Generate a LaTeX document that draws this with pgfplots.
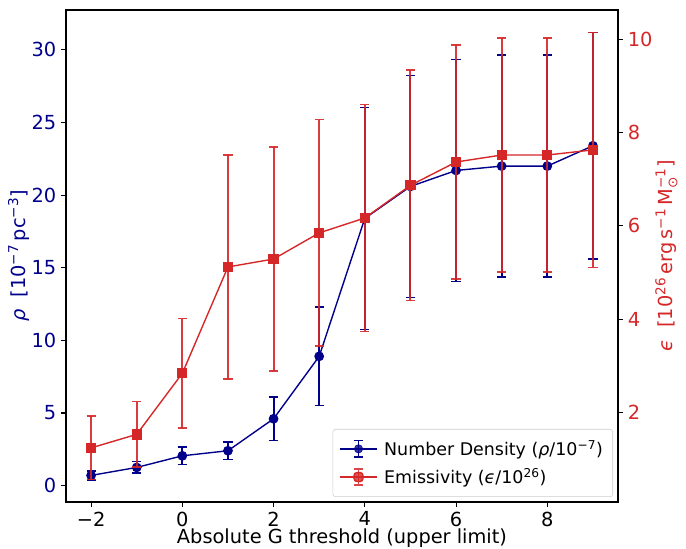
\documentclass[border=0pt]{standalone}
\usepackage{fontspec}
\setmainfont{DejaVu Sans}
\usepackage{amsmath}
\usepackage{pgfplots}
\pgfplotsset{compat=1.18}
\usepackage{pgfplotstable}
\definecolor{blueC}{HTML}{00008B}
\definecolor{redC}{HTML}{D62728}

\pgfplotstableread{
x y e
-2 0.7 0.3
-1 1.25 0.4
0 2.05 0.6
1 2.4 0.6
2 4.6 1.5
3 8.9 3.4
4 18.4 7.65
5 20.6 7.65
6 21.7 7.65
7 22.0 7.65
8 22.0 7.65
9 23.4 7.8
}\bluetab

\pgfplotstableread{
x y e
-2 1.24 0.68
-1 1.53 0.7
0 2.84 1.17
1 5.12 2.4
2 5.29 2.4
3 5.85 2.43
4 6.17 2.43
5 6.87 2.47
6 7.37 2.51
7 7.52 2.51
8 7.52 2.51
9 7.63 2.52
}\redtab

\newcommand{\fs}{\fontsize{14}{16}\selectfont}
\newcommand{\fl}{\fontsize{12.6}{15}\selectfont}

\pgfplotsset{
  common/.style={
    at={(0,0)}, anchor=south west, scale only axis,
    width=397.44bp, height=354.24bp,
    xmin=-2.55, xmax=9.55,
    tick align=outside,
    major tick length=3.5bp,
    every tick/.style={black, line width=0.8bp},
    axis line style={line width=0.8bp, black},
    tick label style={font=\fs},
    label style={font=\fs},
    /pgf/number format/assume math mode=true,
  },
  blueerr/.style={
    /pgfplots/error bars/draw error bar/.code 2 args={
      \draw[blueC, line width=1.5bp] ##1 -- ##2;
      \draw[blueC, line width=1.1bp] ##2 ++(-3.3bp,0pt) -- ++(6.6bp,0pt);}},
  rederr/.style={
    /pgfplots/error bars/draw error bar/.code 2 args={
      \draw[redC, draw opacity=0.9, line width=1.5bp] ##1 -- ##2;
      \draw[redC, draw opacity=0.9, line width=1.1bp] ##2 ++(-3.3bp,0pt) -- ++(6.6bp,0pt);}},
}

\begin{document}
\begin{tikzpicture}
\path[use as bounding box] (-47.52bp,-33.84bp) rectangle (446.4bp,361.44bp);
\begin{axis}[
  common,
  ymin=-1.13, ymax=32.75,
  tick pos=left,
  xtick={-2,0,2,4,6,8},
  xticklabels={−2,0,2,4,6,8},
  ytick={0,5,10,15,20,25,30},
  yticklabel style={text=blueC},
  xlabel={Absolute G threshold (upper limit)},
  xlabel style={at={(axis description cs:0.5,-0.0853)}, anchor=base, inner sep=0pt},
  ylabel={\textit{ρ}\ \ [10\textsuperscript{−7}\,pc\textsuperscript{−3}]},
  ylabel style={text=blueC, at={(axis description cs:-0.066,0.5)}, anchor=south, inner sep=0pt},
]
\addplot[blueC, line width=1bp, mark=*, mark size=3bp, /pgfplots/blueerr,
  error bars/.cd, y dir=both, y explicit]
  table[x=x, y=y, y error=e]{\bluetab};
\end{axis}
\begin{axis}[
  common,
  ymin=0.08, ymax=10.63,
  axis x line=none,
  axis y line*=right,
  y axis line style={-},
  ytick={2,4,6,8,10},
  yticklabel style={text=redC},
  ylabel={\textit{ϵ}\ \ [10\textsuperscript{26}\,erg\,s\textsuperscript{−1}\,M$_{\text{⊙}}^{\text{−1}}$]},
  ylabel style={text=redC, at={(axis description cs:1.067,0.5)}, anchor=north, inner sep=0pt},
  legend cell align=left,
  legend style={at={(axis description cs:1,0)}, anchor=south east,
    xshift=-3.6bp, yshift=3.6bp, font=\fl,
    draw=black!20, fill=white, fill opacity=0.8, text opacity=1, draw opacity=1,
    rounded corners=2bp, row sep=4bp, column sep=3bp, inner xsep=5bp, inner ysep=6bp},
]
\addlegendimage{legend image code/.code={
  \draw[blueC, line width=1bp] (0bp,0bp)--(26bp,0bp);
  \draw[blueC, line width=1.3bp] (13bp,-6bp)--(13bp,6bp) (9.7bp,-6bp)--(16.3bp,-6bp) (9.7bp,6bp)--(16.3bp,6bp);
  \fill[blueC] (13bp,0bp) circle (3bp);}}
\addlegendentry{Number Density (\textit{ρ}/10\textsuperscript{−7})}
\addplot[redC, line width=1bp, mark=square*, mark size=3.2bp,
  legend image code/.code={
  \draw[redC, line width=1bp] (0bp,0bp)--(26bp,0bp);
  \draw[redC, draw opacity=0.85, line width=1.3bp] (13bp,-6bp)--(13bp,6bp) (9.7bp,-6bp)--(16.3bp,-6bp) (9.7bp,6bp)--(16.3bp,6bp);
  \fill[redC] (9.8bp,-3.2bp) rectangle (16.2bp,3.2bp);},
  /pgfplots/rederr,
  error bars/.cd, y dir=both, y explicit]
  table[x=x, y=y, y error=e]{\redtab};
\addlegendentry{Emissivity (\textit{ϵ}/10\textsuperscript{26})}
\end{axis}
\end{tikzpicture}
\end{document}
